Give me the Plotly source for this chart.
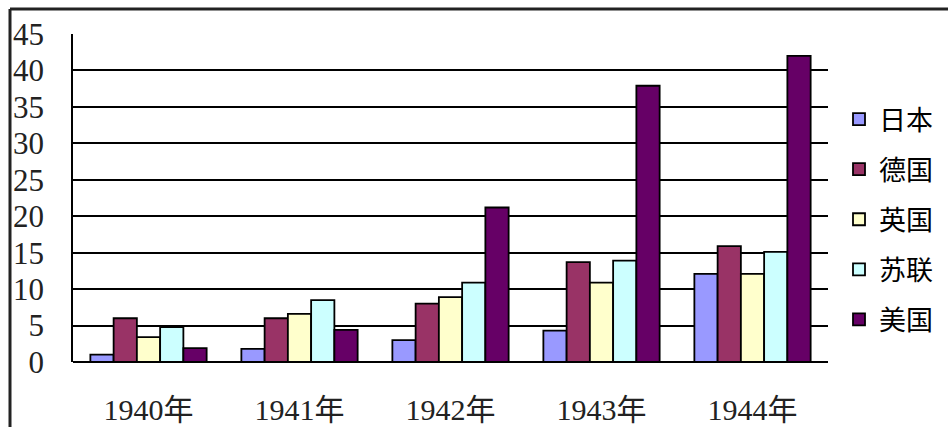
import plotly.graph_objects as go

years = ["1940年", "1941年", "1942年", "1943年", "1944年"]
japan = [1.0, 1.8, 3.0, 4.3, 12.1]
germany = [6.0, 6.0, 8.0, 13.7, 15.9]
britain = [3.4, 6.6, 8.9, 10.9, 12.1]
ussr = [4.8, 8.5, 10.9, 13.9, 15.1]
usa = [1.9, 4.4, 21.2, 37.9, 42.0]

series = [
    ("日本", japan, "#9999FF"),
    ("德国", germany, "#993366"),
    ("英国", britain, "#FFFFCC"),
    ("苏联", ussr, "#CCFFFF"),
    ("美国", usa, "#660066"),
]

W, H = 948, 427
L, R, T, B = 73, 120, 34, 65
pw, ph = W - L - R, H - T - B

fig = go.Figure()
for i, (name, vals, col) in enumerate(series):
    fig.add_trace(go.Bar(
        x=years, y=vals, name=name, legendgroup=f"g{i}",
        marker=dict(color=col, line=dict(color="black", width=1.8)),
    ))

serif = "Liberation Serif, Times New Roman, Noto Sans CJK SC, serif"
fig.update_layout(
    width=W, height=H,
    margin=dict(l=L, r=R, t=T, b=B, autoexpand=False),
    paper_bgcolor="white", plot_bgcolor="white",
    barmode="group", bargap=0.23, bargroupgap=0,
    legend=dict(
        x=(839 - L) / pw, xanchor="left",
        y=(362 - 95) / ph, yanchor="top",
        font=dict(family="Noto Sans CJK SC", size=27, color="black"),
        tracegroupgap=12, itemwidth=30,
        bgcolor="rgba(0,0,0,0)",
    ),
    xaxis=dict(
        showline=False, ticks="", showgrid=False, automargin=False,
        tickfont=dict(family=serif, size=30, color="#222"),
        ticklabelstandoff=27,
    ),
    yaxis=dict(
        range=[0, 45], tickvals=[0, 5, 10, 15, 20, 25, 30, 35, 40, 45],
        showgrid=True, gridcolor="black", gridwidth=1.8, automargin=False,
        showline=True, linecolor="black", linewidth=1.8,
        zeroline=True, zerolinecolor="black", zerolinewidth=1.8,
        ticks="", tickfont=dict(family=serif, size=31, color="#222"),
        ticklabelstandoff=21,
    ),
)

# outer frame lines (top and left)
fig.add_shape(type="line", xref="paper", yref="paper",
              x0=(10 - L) / pw, x1=(W - L + 5) / pw,
              y0=(H - B - 9) / ph, y1=(H - B - 9) / ph,
              line=dict(color="#222", width=3))
fig.add_shape(type="line", xref="paper", yref="paper",
              x0=(10 - L) / pw, x1=(10 - L) / pw,
              y0=(H - B - 9) / ph, y1=-(B + 5) / ph,
              line=dict(color="#222", width=3))

fig.write_html("out.html",
               config={"displayModeBar": False},
               post_script="document.body.style.margin='0';document.body.style.overflow='hidden';")
